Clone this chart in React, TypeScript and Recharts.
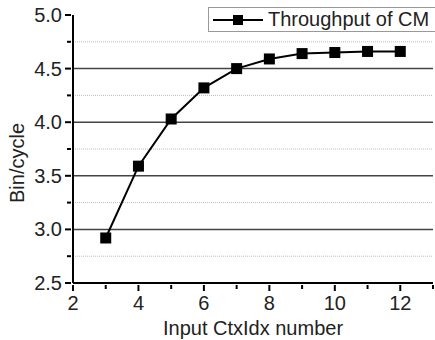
import { LineChart, Line, XAxis, YAxis, ReferenceLine } from 'recharts';

const ctxIdx = [3, 4, 5, 6, 7, 8, 9, 10, 11, 12];
const throughput = [2.92, 3.59, 4.03, 4.32, 4.50, 4.59, 4.64, 4.65, 4.66, 4.66];

const xTicks = [2, 3, 4, 5, 6, 7, 8, 9, 10, 11, 12, 13];
const yTicks = [2.5, 2.75, 3.0, 3.25, 3.5, 3.75, 4.0, 4.25, 4.5, 4.75, 5.0];
const majorGrid = [3.0, 3.5, 4.0, 4.5];
const minorGrid = [2.75, 3.25, 3.75, 4.25, 4.75];

const data = ctxIdx.map((x, i) => ({ x, y: throughput[i] }));

const FONT = 'Arial, "Liberation Sans", sans-serif';

function SquareDot(props: any) {
  const { cx, cy } = props;
  if (cx == null || cy == null) return null;
  return <rect x={cx - 5.5} y={cy - 5.5} width={11} height={11} fill="#000" />;
}

function XTick({ x, y, payload }: any) {
  const major = payload.value % 2 === 0;
  return (
    <g>
      <line x1={x} x2={x} y1={y} y2={y + (major ? 6 : 4)} stroke="#000" strokeWidth={2} />
      {major && (
        <text x={x} y={y + 25} textAnchor="middle" fontSize={20} fill="#222" fontFamily={FONT}>
          {payload.value}
        </text>
      )}
    </g>
  );
}

function YTick({ x, y, payload }: any) {
  const major = Math.abs(payload.value * 2 - Math.round(payload.value * 2)) < 1e-6;
  return (
    <g>
      <line x1={x} x2={x - (major ? 6 : 4)} y1={y} y2={y} stroke="#000" strokeWidth={2} />
      {major && (
        <text x={x - 9} y={y + 7} textAnchor="end" fontSize={20} fill="#222" fontFamily={FONT}>
          {payload.value.toFixed(1)}
        </text>
      )}
    </g>
  );
}

function LegendBox() {
  return (
    <div
      style={{
        position: 'absolute',
        left: 208,
        top: 7,
        border: '1px solid #999',
        height: 23,
        width: 240,
        display: 'flex',
        alignItems: 'center',
        background: '#fff',
        fontFamily: FONT,
        fontSize: 20,
        color: '#222',
      }}
    >
      <svg width={59} height={20} style={{ flexShrink: 0 }}>
        <line x1={4} x2={54} y1={10} y2={10} stroke="#000" strokeWidth={2} />
        <rect x={24} y={5} width={10} height={10} fill="#000" />
      </svg>
      <span style={{ whiteSpace: 'nowrap' }}>Throughput of CM</span>
    </div>
  );
}

export default function App() {
  return (
    <div style={{ position: 'absolute', left: 0, top: 0, width: 435, height: 340, background: '#fff', overflow: 'hidden' }}>
      <LineChart width={437} height={340} data={data} margin={{ top: 15, right: 4, left: 0, bottom: 0 }}>
        {minorGrid.map(v => (
          <ReferenceLine key={`m${v}`} y={v} stroke="#bbb" strokeDasharray="1 1" strokeWidth={1} />
        ))}
        {majorGrid.map(v => (
          <ReferenceLine key={`M${v}`} y={v} stroke="#444" strokeWidth={1.5} />
        ))}
        <XAxis
          dataKey="x"
          type="number"
          domain={[2, 13]}
          ticks={xTicks}
          interval={0}
          tickSize={0}
          tickLine={false}
          axisLine={{ stroke: '#000', strokeWidth: 2 }}
          tick={<XTick />}
          height={57}
          label={{ value: 'Input CtxIdx number', position: 'insideBottom', offset: 5, fontSize: 20, fill: '#222', fontFamily: FONT }}
        />
        <YAxis
          type="number"
          domain={[2.5, 5]}
          ticks={yTicks}
          interval={0}
          tickSize={0}
          tickLine={false}
          axisLine={{ stroke: '#000', strokeWidth: 2 }}
          tick={<YTick />}
          width={73}
          label={{ value: 'Bin/cycle', angle: -90, position: 'insideLeft', offset: 17, dy: 14, fontSize: 20, fill: '#222', fontFamily: FONT, style: { textAnchor: 'middle' } }}
        />
        <Line
          type="linear"
          dataKey="y"
          name="Throughput of CM"
          stroke="#000"
          strokeWidth={2}
          dot={<SquareDot />}
          activeDot={false}
          isAnimationActive={false}
        />
      </LineChart>
      <LegendBox />
    </div>
  );
}
